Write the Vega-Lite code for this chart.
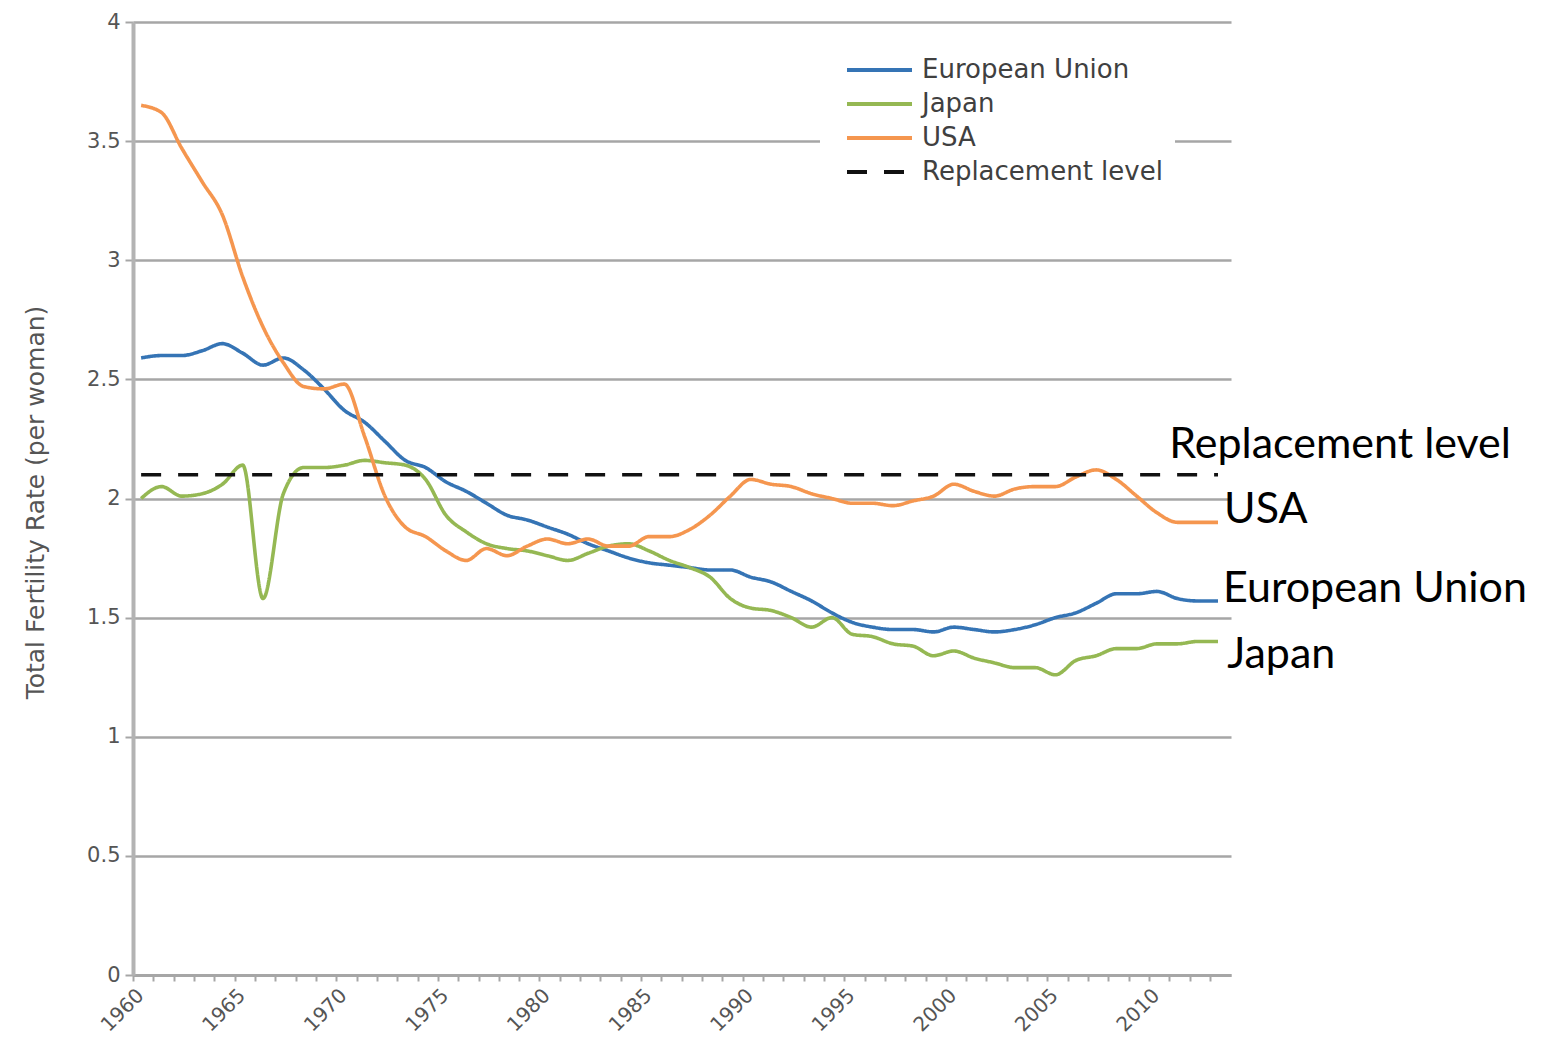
{
  "$schema": "https://vega.github.io/schema/vega-lite/v6.json",
  "width": 1098,
  "height": 953,
  "autosize": {"type": "none"},
  "padding": {"left": 133, "top": 22, "right": 312, "bottom": 66},
  "background": "white",
  "config": {"view": {"stroke": null}, "font": "DejaVu Sans"},
  "datasets": {
    "tfr": [
      {"year": 1960, "series": "European Union", "value": 2.59},
      {"year": 1961, "series": "European Union", "value": 2.60},
      {"year": 1962, "series": "European Union", "value": 2.60},
      {"year": 1963, "series": "European Union", "value": 2.62},
      {"year": 1964, "series": "European Union", "value": 2.65},
      {"year": 1965, "series": "European Union", "value": 2.61},
      {"year": 1966, "series": "European Union", "value": 2.56},
      {"year": 1967, "series": "European Union", "value": 2.59},
      {"year": 1968, "series": "European Union", "value": 2.54},
      {"year": 1969, "series": "European Union", "value": 2.46},
      {"year": 1970, "series": "European Union", "value": 2.37},
      {"year": 1971, "series": "European Union", "value": 2.32},
      {"year": 1972, "series": "European Union", "value": 2.24},
      {"year": 1973, "series": "European Union", "value": 2.16},
      {"year": 1974, "series": "European Union", "value": 2.13},
      {"year": 1975, "series": "European Union", "value": 2.07},
      {"year": 1976, "series": "European Union", "value": 2.03},
      {"year": 1977, "series": "European Union", "value": 1.98},
      {"year": 1978, "series": "European Union", "value": 1.93},
      {"year": 1979, "series": "European Union", "value": 1.91},
      {"year": 1980, "series": "European Union", "value": 1.88},
      {"year": 1981, "series": "European Union", "value": 1.85},
      {"year": 1982, "series": "European Union", "value": 1.81},
      {"year": 1983, "series": "European Union", "value": 1.78},
      {"year": 1984, "series": "European Union", "value": 1.75},
      {"year": 1985, "series": "European Union", "value": 1.73},
      {"year": 1986, "series": "European Union", "value": 1.72},
      {"year": 1987, "series": "European Union", "value": 1.71},
      {"year": 1988, "series": "European Union", "value": 1.70},
      {"year": 1989, "series": "European Union", "value": 1.70},
      {"year": 1990, "series": "European Union", "value": 1.67},
      {"year": 1991, "series": "European Union", "value": 1.65},
      {"year": 1992, "series": "European Union", "value": 1.61},
      {"year": 1993, "series": "European Union", "value": 1.57},
      {"year": 1994, "series": "European Union", "value": 1.52},
      {"year": 1995, "series": "European Union", "value": 1.48},
      {"year": 1996, "series": "European Union", "value": 1.46},
      {"year": 1997, "series": "European Union", "value": 1.45},
      {"year": 1998, "series": "European Union", "value": 1.45},
      {"year": 1999, "series": "European Union", "value": 1.44},
      {"year": 2000, "series": "European Union", "value": 1.46},
      {"year": 2001, "series": "European Union", "value": 1.45},
      {"year": 2002, "series": "European Union", "value": 1.44},
      {"year": 2003, "series": "European Union", "value": 1.45},
      {"year": 2004, "series": "European Union", "value": 1.47},
      {"year": 2005, "series": "European Union", "value": 1.50},
      {"year": 2006, "series": "European Union", "value": 1.52},
      {"year": 2007, "series": "European Union", "value": 1.56},
      {"year": 2008, "series": "European Union", "value": 1.60},
      {"year": 2009, "series": "European Union", "value": 1.60},
      {"year": 2010, "series": "European Union", "value": 1.61},
      {"year": 2011, "series": "European Union", "value": 1.58},
      {"year": 2012, "series": "European Union", "value": 1.57},
      {"year": 2013, "series": "European Union", "value": 1.57},
      {"year": 1960, "series": "Japan", "value": 2.00},
      {"year": 1961, "series": "Japan", "value": 2.05},
      {"year": 1962, "series": "Japan", "value": 2.01},
      {"year": 1963, "series": "Japan", "value": 2.02},
      {"year": 1964, "series": "Japan", "value": 2.06},
      {"year": 1965, "series": "Japan", "value": 2.14},
      {"year": 1966, "series": "Japan", "value": 1.58},
      {"year": 1967, "series": "Japan", "value": 2.02},
      {"year": 1968, "series": "Japan", "value": 2.13},
      {"year": 1969, "series": "Japan", "value": 2.13},
      {"year": 1970, "series": "Japan", "value": 2.14},
      {"year": 1971, "series": "Japan", "value": 2.16},
      {"year": 1972, "series": "Japan", "value": 2.15},
      {"year": 1973, "series": "Japan", "value": 2.14},
      {"year": 1974, "series": "Japan", "value": 2.08},
      {"year": 1975, "series": "Japan", "value": 1.93},
      {"year": 1976, "series": "Japan", "value": 1.86},
      {"year": 1977, "series": "Japan", "value": 1.81},
      {"year": 1978, "series": "Japan", "value": 1.79},
      {"year": 1979, "series": "Japan", "value": 1.78},
      {"year": 1980, "series": "Japan", "value": 1.76},
      {"year": 1981, "series": "Japan", "value": 1.74},
      {"year": 1982, "series": "Japan", "value": 1.77},
      {"year": 1983, "series": "Japan", "value": 1.80},
      {"year": 1984, "series": "Japan", "value": 1.81},
      {"year": 1985, "series": "Japan", "value": 1.78},
      {"year": 1986, "series": "Japan", "value": 1.74},
      {"year": 1987, "series": "Japan", "value": 1.71},
      {"year": 1988, "series": "Japan", "value": 1.67},
      {"year": 1989, "series": "Japan", "value": 1.58},
      {"year": 1990, "series": "Japan", "value": 1.54},
      {"year": 1991, "series": "Japan", "value": 1.53},
      {"year": 1992, "series": "Japan", "value": 1.50},
      {"year": 1993, "series": "Japan", "value": 1.46},
      {"year": 1994, "series": "Japan", "value": 1.50},
      {"year": 1995, "series": "Japan", "value": 1.43},
      {"year": 1996, "series": "Japan", "value": 1.42},
      {"year": 1997, "series": "Japan", "value": 1.39},
      {"year": 1998, "series": "Japan", "value": 1.38},
      {"year": 1999, "series": "Japan", "value": 1.34},
      {"year": 2000, "series": "Japan", "value": 1.36},
      {"year": 2001, "series": "Japan", "value": 1.33},
      {"year": 2002, "series": "Japan", "value": 1.31},
      {"year": 2003, "series": "Japan", "value": 1.29},
      {"year": 2004, "series": "Japan", "value": 1.29},
      {"year": 2005, "series": "Japan", "value": 1.26},
      {"year": 2006, "series": "Japan", "value": 1.32},
      {"year": 2007, "series": "Japan", "value": 1.34},
      {"year": 2008, "series": "Japan", "value": 1.37},
      {"year": 2009, "series": "Japan", "value": 1.37},
      {"year": 2010, "series": "Japan", "value": 1.39},
      {"year": 2011, "series": "Japan", "value": 1.39},
      {"year": 2012, "series": "Japan", "value": 1.40},
      {"year": 2013, "series": "Japan", "value": 1.40},
      {"year": 1960, "series": "USA", "value": 3.65},
      {"year": 1961, "series": "USA", "value": 3.62},
      {"year": 1962, "series": "USA", "value": 3.47},
      {"year": 1963, "series": "USA", "value": 3.33},
      {"year": 1964, "series": "USA", "value": 3.19},
      {"year": 1965, "series": "USA", "value": 2.93},
      {"year": 1966, "series": "USA", "value": 2.72},
      {"year": 1967, "series": "USA", "value": 2.57},
      {"year": 1968, "series": "USA", "value": 2.47},
      {"year": 1969, "series": "USA", "value": 2.46},
      {"year": 1970, "series": "USA", "value": 2.48},
      {"year": 1971, "series": "USA", "value": 2.26},
      {"year": 1972, "series": "USA", "value": 2.01},
      {"year": 1973, "series": "USA", "value": 1.88},
      {"year": 1974, "series": "USA", "value": 1.84},
      {"year": 1975, "series": "USA", "value": 1.78},
      {"year": 1976, "series": "USA", "value": 1.74},
      {"year": 1977, "series": "USA", "value": 1.79},
      {"year": 1978, "series": "USA", "value": 1.76},
      {"year": 1979, "series": "USA", "value": 1.80},
      {"year": 1980, "series": "USA", "value": 1.83},
      {"year": 1981, "series": "USA", "value": 1.81},
      {"year": 1982, "series": "USA", "value": 1.83},
      {"year": 1983, "series": "USA", "value": 1.80},
      {"year": 1984, "series": "USA", "value": 1.80},
      {"year": 1985, "series": "USA", "value": 1.84},
      {"year": 1986, "series": "USA", "value": 1.84},
      {"year": 1987, "series": "USA", "value": 1.87},
      {"year": 1988, "series": "USA", "value": 1.93},
      {"year": 1989, "series": "USA", "value": 2.01},
      {"year": 1990, "series": "USA", "value": 2.08},
      {"year": 1991, "series": "USA", "value": 2.06},
      {"year": 1992, "series": "USA", "value": 2.05},
      {"year": 1993, "series": "USA", "value": 2.02},
      {"year": 1994, "series": "USA", "value": 2.00},
      {"year": 1995, "series": "USA", "value": 1.98},
      {"year": 1996, "series": "USA", "value": 1.98},
      {"year": 1997, "series": "USA", "value": 1.97},
      {"year": 1998, "series": "USA", "value": 1.99},
      {"year": 1999, "series": "USA", "value": 2.01},
      {"year": 2000, "series": "USA", "value": 2.06},
      {"year": 2001, "series": "USA", "value": 2.03},
      {"year": 2002, "series": "USA", "value": 2.01},
      {"year": 2003, "series": "USA", "value": 2.04},
      {"year": 2004, "series": "USA", "value": 2.05},
      {"year": 2005, "series": "USA", "value": 2.05},
      {"year": 2006, "series": "USA", "value": 2.09},
      {"year": 2007, "series": "USA", "value": 2.12},
      {"year": 2008, "series": "USA", "value": 2.08},
      {"year": 2009, "series": "USA", "value": 2.01},
      {"year": 2010, "series": "USA", "value": 1.94},
      {"year": 2011, "series": "USA", "value": 1.90},
      {"year": 2012, "series": "USA", "value": 1.90},
      {"year": 2013, "series": "USA", "value": 1.90},
      {"year": 1960, "series": "Replacement level", "value": 2.1},
      {"year": 2013, "series": "Replacement level", "value": 2.1}
    ],
    "notes": [
      {"label": "Replacement level", "year": 2010.6, "value": 2.17},
      {"label": "USA", "year": 2013.3, "value": 1.897},
      {"label": "European Union", "year": 2013.25, "value": 1.566},
      {"label": "Japan", "year": 2013.45, "value": 1.289}
    ]
  },
  "encoding": {
    "x": {
      "field": "year",
      "type": "quantitative",
      "scale": {"domain": [1959.6, 2013.64], "nice": false, "zero": false},
      "axis": {
        "title": null,
        "values": [1960,1961,1962,1963,1964,1965,1966,1967,1968,1969,1970,1971,1972,1973,1974,1975,1976,1977,1978,1979,1980,1981,1982,1983,1984,1985,1986,1987,1988,1989,1990,1991,1992,1993,1994,1995,1996,1997,1998,1999,2000,2001,2002,2003,2004,2005,2006,2007,2008,2009,2010,2011,2012,2013],
        "format": "d",
        "labelExpr": "datum.value % 5 === 0 ? datum.label : ''",
        "labelOverlap": false,
        "labelAngle": -45,
        "labelFontSize": 20,
        "labelColor": "#555555",
        "labelPadding": 4,
        "tickOffset": -8,
        "grid": false,
        "domainColor": "#a6a6a6",
        "domainWidth": 3,
        "tickColor": "#a6a6a6",
        "tickWidth": 2,
        "tickSize": 6
      }
    },
    "y": {
      "field": "value",
      "type": "quantitative",
      "scale": {"domain": [0, 4], "nice": false},
      "axis": {
        "title": "Total Fertility Rate (per woman)",
        "values": [0, 0.5, 1, 1.5, 2, 2.5, 3, 3.5, 4],
        "format": "~g",
        "grid": true,
        "gridColor": "#a6a6a6",
        "gridWidth": 2.5,
        "domainColor": "#b3b3b3",
        "domainWidth": 4,
        "tickColor": "#a6a6a6",
        "tickWidth": 2,
        "tickSize": 8,
        "labelFontSize": 21,
        "labelColor": "#555555",
        "labelPadding": 5,
        "titleFontSize": 25,
        "titleFontWeight": "normal",
        "titleColor": "#555555",
        "titleX": -98,
        "titleY": 480,
        "titleAngle": -90,
        "titleAlign": "center",
        "titleBaseline": "middle"
      }
    }
  },
  "layer": [
    {
      "data": {"name": "tfr"},
      "mark": {"type": "line", "strokeWidth": 3.6, "interpolate": "monotone"},
      "encoding": {
        "color": {
          "field": "series",
          "type": "nominal",
          "scale": {
            "domain": ["European Union", "Japan", "USA", "Replacement level"],
            "range": ["#3574b5", "#95b853", "#f5964f", "#111111"]
          },
          "legend": {
            "title": null,
            "orient": "none",
            "legendX": 687,
            "legendY": 19,
            "fillColor": "white",
            "padding": 12,
            "symbolType": "stroke",
            "symbolSize": 4225,
            "symbolStrokeWidth": 4,
            "symbolOffset": 13,
            "clipHeight": 34,
            "rowPadding": 0,
            "labelFontSize": 26,
            "labelLimit": 500,
            "labelColor": "#404040",
            "labelOffset": 8
          }
        },
        "strokeDash": {
          "field": "series",
          "type": "nominal",
          "scale": {
            "domain": ["European Union", "Japan", "USA", "Replacement level"],
            "range": [[1, 0], [1, 0], [1, 0], [20, 17]]
          },
          "legend": {
            "title": null,
            "orient": "none",
            "legendX": 687,
            "legendY": 19,
            "fillColor": "white",
            "padding": 12,
            "symbolType": "stroke",
            "symbolSize": 4225,
            "symbolStrokeWidth": 4,
            "symbolOffset": 13,
            "clipHeight": 34,
            "rowPadding": 0,
            "labelFontSize": 26,
            "labelLimit": 500,
            "labelColor": "#404040",
            "labelOffset": 8
          }
        }
      }
    },
    {
      "data": {"name": "notes"},
      "mark": {"type": "text", "align": "left", "baseline": "alphabetic", "font": "Lato", "fontSize": 43, "color": "#000000"},
      "encoding": {
        "text": {"field": "label"}
      }
    }
  ]
}
